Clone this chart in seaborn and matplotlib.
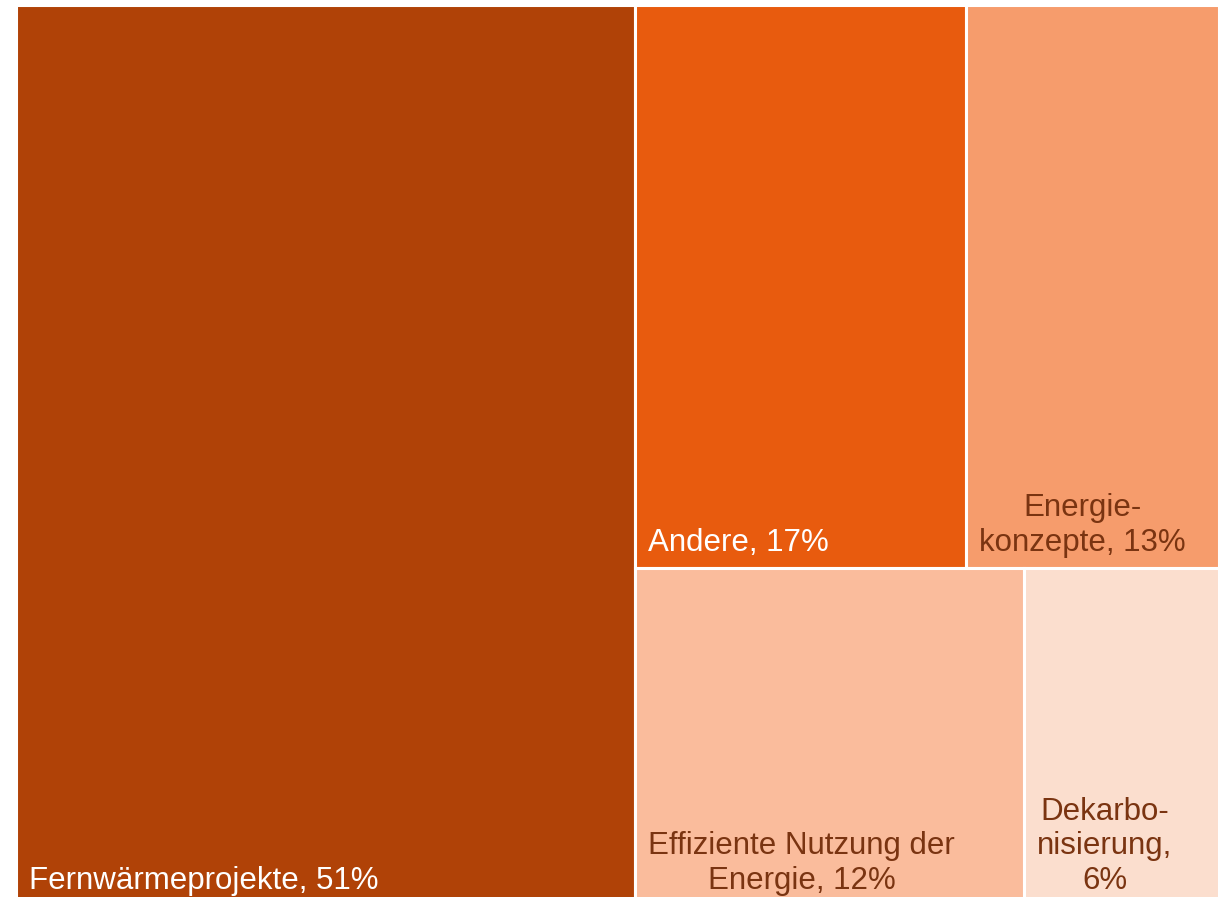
import matplotlib
matplotlib.use("Agg")
import matplotlib.pyplot as plt
from matplotlib.patches import Rectangle
import seaborn as sns

# data
labels = ["Fernwärmeprojekte, 51%", "Andere, 17%", "Energie-\nkonzepte, 13%",
          "Effiziente Nutzung der\nEnergie, 12%", "Dekarbo-\nnisierung,\n6%"]
shares = [51, 17, 13, 12, 6]
colors = ["#B04207", "#E85B0E", "#F69C6C", "#FABC9C", "#FBDECE"]
text_colors = ["white", "white", "#7A3411", "#7A3411", "#7A3411"]
# how the boxes are grouped: one column on the left, then two rows
groups = [[0], [1, 2], [3, 4]]

sns.set_theme(style="white")
plt.rcParams["font.family"] = ["Liberation Sans", "DejaVu Sans"]

W, H = 1203.0, 902.0


def layout(vals, groups, W, H):
    total = float(sum(vals))
    rects = {}
    # first group: full-height column
    first = groups[0]
    cw = W * sum(vals[i] for i in first) / total
    y = 0.0
    for i in first:
        rh = H * vals[i] / sum(vals[j] for j in first)
        rects[i] = (0.0, y, cw, rh)
        y += rh
    # remaining groups: stacked rows in the rest of the area
    rest_total = total - sum(vals[i] for i in first)
    rw = W - cw
    y = 0.0
    for g in groups[1:]:
        gs = sum(vals[i] for i in g)
        rh = H * gs / rest_total
        x = cw
        for i in g:
            w = rw * vals[i] / gs
            rects[i] = (x, y, w, rh)
            x += w
        y += rh
    return rects


rects = layout(shares, groups, W, H)

fig = plt.figure(figsize=(12.22, 8.97), dpi=100)
ax = fig.add_axes([15.5 / 1222, (897 - 906.5) / 897, W / 1222, H / 897])
ax.set_xlim(0, W)
ax.set_ylim(H, 0)
ax.axis("off")

for i, lab in enumerate(labels):
    x, y, w, h = rects[i]
    ax.add_patch(Rectangle((x, y), w, h, facecolor=colors[i], edgecolor="white", linewidth=2.2))
    ax.annotate(lab, xy=(x, y + h), xytext=(9.5, 7.5), textcoords="offset points",
                ha="left", va="bottom", multialignment="center", linespacing=1.2,
                fontsize=22.5, color=text_colors[i])

fig.savefig("out.png", dpi=100, facecolor="white")
